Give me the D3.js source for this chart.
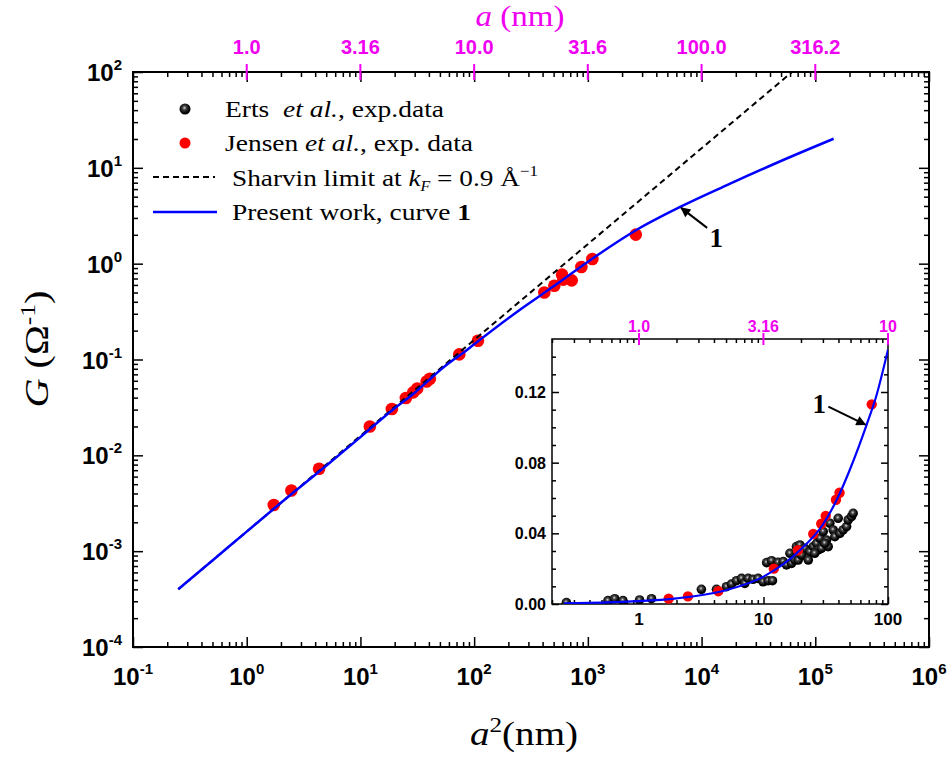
<!DOCTYPE html>
<html>
<head>
<meta charset="utf-8">
<script src="https://cdn.jsdelivr.net/npm/d3@7"></script>
<style>
  body { margin: 0; background: #fff; }
  text { font-family: "Liberation Sans", Arial, sans-serif; }
  .serif { font-family: "Liberation Serif", "Times New Roman", serif; }
</style>
</head>
<body>
<svg id="chart" width="951" height="758"></svg>
<script>
// a^2 (nm^2) against conductance G (1/Ohm)

// Jensen et al., exp. data
const jensenA2 = [1.73, 2.47, 4.33, 12.1, 18.9, 25.1, 29.1, 31.6, 38.2, 40.8, 74, 108,
  414, 507, 593, 608, 721, 877, 1096, 2640];
const jensenG = [0.00303, 0.0043, 0.00725, 0.0200, 0.0304, 0.0396, 0.0454, 0.0499, 0.0590, 0.0630, 0.113, 0.157,
  0.50, 0.589, 0.768, 0.681, 0.67, 0.924, 1.12, 2.01];

// Erts et al., exp. data (only shown in the inset)
const ertsA2 = [0.261, 0.563, 0.638, 0.743, 1.01, 1.26, 3.17, 4.19, 5.04, 5.53, 6.07, 6.66, 7.08, 7.53,
  8.25, 9.05, 9.93, 10.9, 11.8, 10.6, 11.6, 13.1, 14.4, 15.3, 16.8, 17.9, 16.3, 18.4, 19.6, 21.5,
  22.2, 23.6, 25.1, 26.7, 28.4, 30.2, 32.1, 33.1, 27.5, 29.2, 31.1, 34.1, 36.3, 37.4, 39.8, 41.1,
  43.6, 46.5, 47.9, 50.9, 52.5, 19.0, 20.2, 22.9, 25.8];
const ertsG = [0.0008, 0.0019, 0.0030, 0.0019, 0.0023, 0.0030, 0.0083, 0.0083, 0.0098, 0.0113, 0.0132, 0.0145, 0.0117, 0.0145,
  0.0140, 0.0145, 0.0126, 0.0132, 0.0132, 0.0234, 0.0245, 0.0236, 0.0240, 0.0221, 0.0230, 0.0249, 0.0287, 0.0325, 0.0334, 0.0315,
  0.0268, 0.0296, 0.0325, 0.0343, 0.0372, 0.0410, 0.0362, 0.0325, 0.0306, 0.0315, 0.0343, 0.0457, 0.0419, 0.0381, 0.0485, 0.0400,
  0.0419, 0.0438, 0.0476, 0.0494, 0.0513, 0.0249, 0.0277, 0.0249, 0.0287];

// present work, curve 1
const curveA2 = [0.25, 0.5, 1, 2, 5, 10, 20, 30, 40, 50, 67, 80, 100, 253, 500, 1117, 2694, 6480, 16700, 46000, 145000];
const curveG = [0.0004, 0.0008, 0.0016, 0.0032, 0.0078, 0.0155, 0.031, 0.045, 0.061, 0.077, 0.101, 0.117, 0.144,
  0.331, 0.58, 1.147, 2.26, 3.91, 6.6, 11.3, 20.1];

// Sharvin limit (straight line on log-log)
const sharvinA2 = [0.25, 1e5];
const sharvinG = [0.0004, 160];

// ticks
const xTickExp = [-1, 0, 1, 2, 3, 4, 5, 6];
const yTickExp = [-4, -3, -2, -1, 0, 1, 2];
const topTickA = [1, 3.16, 10, 31.6, 100, 316.2];
const topTickLabels = ["1.0", "3.16", "10.0", "31.6", "100.0", "316.2"];
const insetXTicks = [1, 10, 100];
const insetYTicks = [0, 0.04, 0.08, 0.12];
const insetTopA = [1, 3.16, 10];
const insetTopLabels = ["1.0", "3.16", "10"];

// annotation anchors on curve 1
const arrowMain = [6480, 3.91];
const arrowInset = [67, 0.101];

const MAGENTA = "#f000f0";
const svg = d3.select("#chart");

const defs = svg.append("defs");
const grad = defs.append("radialGradient").attr("id", "ball")
  .attr("cx", "45%").attr("cy", "40%").attr("r", "60%");
grad.append("stop").attr("offset", "0%").attr("stop-color", "#d8d8d8");
grad.append("stop").attr("offset", "30%").attr("stop-color", "#444");
grad.append("stop").attr("offset", "75%").attr("stop-color", "#000");
defs.append("marker").attr("id", "head").attr("viewBox", "0 0 10 10")
  .attr("refX", 9).attr("refY", 5).attr("markerWidth", 6).attr("markerHeight", 5)
  .attr("markerUnits", "strokeWidth").attr("orient", "auto")
  .append("path").attr("d", "M0,0 L10,5 L0,10 z").attr("fill", "#000");

const isPow = v => Math.abs(Math.log10(v) - Math.round(Math.log10(v))) < 1e-6;

function tickGroup(axisFn, scale, values, size, transform, color) {
  svg.append("g").attr("transform", transform)
    .call(axisFn(scale).tickValues(values).tickSize(size).tickFormat(""))
    .call(g => {
      g.select(".domain").remove();
      g.selectAll("line").attr("stroke", color || "#000").attr("stroke-width", 1.5);
    });
}

function powLabel(sel, e, supSize, supDy) {
  sel.append("tspan").text("10");
  sel.append("tspan").attr("font-size", supSize).attr("dy", supDy).text(e);
}

// ---------------- main plot ----------------
const M = { left: 133, right: 929, top: 72, bottom: 647 };
const x = d3.scaleLog().domain([0.1, 1e6]).range([M.left, M.right]);
const y = d3.scaleLog().domain([1e-4, 1e2]).range([M.bottom, M.top]);

defs.append("clipPath").attr("id", "clipMain").append("rect")
  .attr("x", M.left).attr("y", M.top)
  .attr("width", M.right - M.left).attr("height", M.bottom - M.top);

const xMinor = x.ticks().filter(v => !isPow(v));
const xMajor = xTickExp.map(e => Math.pow(10, e));
const yMinor = y.ticks().filter(v => !isPow(v));
const yMajor = yTickExp.map(e => Math.pow(10, e));

tickGroup(d3.axisBottom, x, xMinor, -5, `translate(0,${M.bottom})`);
tickGroup(d3.axisBottom, x, xMajor, -10, `translate(0,${M.bottom})`);
tickGroup(d3.axisTop, x, xMinor, -5, `translate(0,${M.top})`);
tickGroup(d3.axisTop, x, xMajor, -10, `translate(0,${M.top})`);
tickGroup(d3.axisLeft, y, yMinor, -5, `translate(${M.left},0)`);
tickGroup(d3.axisLeft, y, yMajor, -10, `translate(${M.left},0)`);
tickGroup(d3.axisRight, y, yMinor, -5, `translate(${M.right},0)`);
tickGroup(d3.axisRight, y, yMajor, -10, `translate(${M.right},0)`);

svg.append("rect").attr("x", M.left).attr("y", M.top)
  .attr("width", M.right - M.left).attr("height", M.bottom - M.top)
  .attr("fill", "none").attr("stroke", "#000").attr("stroke-width", 2);

// magenta a-ticks on top axis
svg.append("g").selectAll("line").data(topTickA).join("line")
  .attr("x1", d => x(d * d)).attr("x2", d => x(d * d))
  .attr("y1", M.top - 8).attr("y2", M.top + 8)
  .attr("stroke", MAGENTA).attr("stroke-width", 2);
svg.append("g").selectAll("text").data(topTickA).join("text")
  .attr("x", d => x(d * d)).attr("y", M.top - 18)
  .attr("text-anchor", "middle").attr("font-size", 20).attr("font-weight", "bold")
  .attr("fill", MAGENTA).text((d, i) => topTickLabels[i]);

// bottom labels
svg.append("g").selectAll("text").data(xTickExp).join("text")
  .attr("x", e => x(Math.pow(10, e))).attr("y", M.bottom + 38)
  .attr("text-anchor", "middle").attr("font-size", 24).attr("font-weight", "bold")
  .each(function(e) { powLabel(d3.select(this), e, 15, -11); });

// left labels
svg.append("g").selectAll("text").data(yTickExp).join("text")
  .attr("x", M.left - 11).attr("y", e => y(Math.pow(10, e)) + 9)
  .attr("text-anchor", "end").attr("font-size", 24).attr("font-weight", "bold")
  .each(function(e) { powLabel(d3.select(this), e, 15, -11); });

// axis titles
const topTitle = svg.append("text").attr("class", "serif")
  .attr("x", 520).attr("y", 26).attr("text-anchor", "middle")
  .attr("font-size", 30).attr("fill", MAGENTA)
  .attr("textLength", 89).attr("lengthAdjust", "spacingAndGlyphs");
topTitle.append("tspan").attr("font-style", "italic").text("a");
topTitle.append("tspan").text(" (nm)");

const botTitle = svg.append("text").attr("class", "serif")
  .attr("x", 524).attr("y", 745).attr("text-anchor", "middle").attr("font-size", 34)
  .attr("textLength", 108).attr("lengthAdjust", "spacingAndGlyphs");
botTitle.append("tspan").attr("font-style", "italic").text("a");
botTitle.append("tspan").attr("font-size", 22).attr("dy", -13).text("2");
botTitle.append("tspan").attr("dy", 13).text("(nm)");

const yTitle = svg.append("text").attr("class", "serif")
  .attr("transform", "translate(48,349) rotate(-90)")
  .attr("text-anchor", "middle").attr("font-size", 33)
  .attr("textLength", 117).attr("lengthAdjust", "spacingAndGlyphs");
yTitle.append("tspan").attr("font-style", "italic").text("G");
yTitle.append("tspan").text("  (Ω");
yTitle.append("tspan").attr("font-size", 21).attr("dy", -13).text("-1");
yTitle.append("tspan").attr("dy", 13).text(")");

// data
const jensen = jensenA2.map((a, i) => [a, jensenG[i]]);
const erts = ertsA2.map((a, i) => [a, ertsG[i]]);
const curve = curveA2.map((a, i) => [a, curveG[i]]);
const sharvin = sharvinA2.map((a, i) => [a, sharvinG[i]]);

const plotMain = svg.append("g").attr("clip-path", "url(#clipMain)");
plotMain.selectAll("circle").data(jensen).join("circle")
  .attr("cx", d => x(d[0])).attr("cy", d => y(d[1])).attr("r", 6.3).attr("fill", "#ff0000");
plotMain.append("path").datum(sharvin)
  .attr("d", d3.line().x(d => x(d[0])).y(d => y(d[1])))
  .attr("fill", "none").attr("stroke", "#000").attr("stroke-width", 2).attr("stroke-dasharray", "6,4");
plotMain.append("path").datum(curve)
  .attr("d", d3.line().x(d => x(d[0])).y(d => y(d[1])).curve(d3.curveMonotoneX))
  .attr("fill", "none").attr("stroke", "#0000ff").attr("stroke-width", 2.5);

// arrow 1 (main)
const amx = x(arrowMain[0]), amy = y(arrowMain[1]);
svg.append("line").attr("x1", amx + 27).attr("y1", amy + 21).attr("x2", amx + 1).attr("y2", amy + 1)
  .attr("stroke", "#000").attr("stroke-width", 2).attr("marker-end", "url(#head)");
svg.append("text").attr("class", "serif").attr("x", amx + 36).attr("y", amy + 40)
  .attr("text-anchor", "middle").attr("font-size", 27).attr("font-weight", "bold").text("1");

// legend
const leg = svg.append("g");
leg.append("circle").attr("cx", 185).attr("cy", 109).attr("r", 5.5).attr("fill", "url(#ball)");
leg.append("circle").attr("cx", 185).attr("cy", 143).attr("r", 5.5).attr("fill", "#ff0000");
leg.append("line").attr("x1", 153).attr("x2", 215).attr("y1", 177).attr("y2", 177)
  .attr("stroke", "#000").attr("stroke-width", 2).attr("stroke-dasharray", "6,4");
leg.append("line").attr("x1", 153).attr("x2", 217).attr("y1", 212).attr("y2", 212)
  .attr("stroke", "#0000ff").attr("stroke-width", 2.5);

function legText(xp, yp, len) {
  return leg.append("text").attr("class", "serif").attr("x", xp).attr("y", yp).attr("font-size", 24)
    .attr("textLength", len).attr("lengthAdjust", "spacingAndGlyphs");
}
const t1 = legText(225, 117, 219);
t1.append("tspan").text("Erts\u00a0\u00a0");
t1.append("tspan").attr("font-style", "italic").text("et al.");
t1.append("tspan").text(", exp.data");
const t2 = legText(225, 151, 248);
t2.append("tspan").text("Jensen ");
t2.append("tspan").attr("font-style", "italic").text("et al.");
t2.append("tspan").text(", exp. data");
const t3 = legText(232, 186, 306);
t3.append("tspan").text("Sharvin limit at ");
t3.append("tspan").attr("font-style", "italic").text("k");
t3.append("tspan").attr("font-style", "italic").attr("font-size", 14).attr("dy", 5).text("F");
t3.append("tspan").attr("dy", -5).text(" = 0.9 Å");
t3.append("tspan").attr("font-size", 15).attr("dy", -10).text("\u22121");
const t4 = legText(232, 220, 239);
t4.append("tspan").text("Present work, curve ");
t4.append("tspan").attr("font-weight", "bold").text("1");

// ---------------- inset ----------------
const I = { left: 552, right: 888, top: 339, bottom: 604 };
const xi = d3.scaleLog().domain([0.2, 100]).range([I.left, I.right]);
const yi = d3.scaleLinear().domain([0, 0.15]).range([I.bottom, I.top]);

svg.append("rect").attr("x", I.left).attr("y", I.top)
  .attr("width", I.right - I.left).attr("height", I.bottom - I.top).attr("fill", "#fff");

defs.append("clipPath").attr("id", "clipInset").append("rect")
  .attr("x", I.left).attr("y", I.top - 2)
  .attr("width", I.right - I.left).attr("height", I.bottom - I.top + 2);

const xiMinor = xi.ticks().filter(v => !isPow(v));
const yiMinor = d3.range(0.01, 0.15, 0.01).filter(v => Math.abs(v / 0.04 - Math.round(v / 0.04)) > 1e-6);

tickGroup(d3.axisBottom, xi, xiMinor, -4, `translate(0,${I.bottom})`);
tickGroup(d3.axisBottom, xi, insetXTicks, -7, `translate(0,${I.bottom})`);
tickGroup(d3.axisTop, xi, xiMinor, -4, `translate(0,${I.top})`);
tickGroup(d3.axisLeft, yi, yiMinor, -4, `translate(${I.left},0)`);
tickGroup(d3.axisLeft, yi, insetYTicks, -7, `translate(${I.left},0)`);
tickGroup(d3.axisRight, yi, yiMinor, -4, `translate(${I.right},0)`);
tickGroup(d3.axisRight, yi, insetYTicks, -7, `translate(${I.right},0)`);

svg.append("rect").attr("x", I.left).attr("y", I.top)
  .attr("width", I.right - I.left).attr("height", I.bottom - I.top)
  .attr("fill", "none").attr("stroke", "#000").attr("stroke-width", 1.5);

svg.append("g").selectAll("line").data(insetTopA).join("line")
  .attr("x1", d => xi(d * d)).attr("x2", d => xi(d * d))
  .attr("y1", I.top - 6).attr("y2", I.top + 6)
  .attr("stroke", MAGENTA).attr("stroke-width", 2);
svg.append("g").selectAll("text").data(insetTopA).join("text")
  .attr("x", d => xi(d * d)).attr("y", I.top - 7)
  .attr("text-anchor", "middle").attr("font-size", 16).attr("font-weight", "bold")
  .attr("fill", MAGENTA).text((d, i) => insetTopLabels[i]);

svg.append("g").selectAll("text").data(insetXTicks).join("text")
  .attr("x", d => xi(d)).attr("y", I.bottom + 21)
  .attr("text-anchor", "middle").attr("font-size", 17).attr("font-weight", "bold")
  .text(d => d);
svg.append("g").selectAll("text").data(insetYTicks).join("text")
  .attr("x", I.left - 6).attr("y", d => yi(d) + 6)
  .attr("text-anchor", "end").attr("font-size", 16).attr("font-weight", "bold")
  .text(d => d.toFixed(2));

const plotInset = svg.append("g").attr("clip-path", "url(#clipInset)");
plotInset.selectAll("circle.erts").data(erts).join("circle").attr("class", "erts")
  .attr("cx", d => xi(d[0])).attr("cy", d => yi(d[1])).attr("r", 4.8)
  .attr("fill", "url(#ball)");
plotInset.selectAll("circle.jensen").data(jensen.filter(d => d[0] <= 100)).join("circle").attr("class", "jensen")
  .attr("cx", d => xi(d[0])).attr("cy", d => yi(d[1])).attr("r", 5.2).attr("fill", "#ff0000");
plotInset.append("path").datum(curve.filter(d => d[0] <= 100))
  .attr("d", d3.line().x(d => xi(d[0])).y(d => yi(d[1])).curve(d3.curveMonotoneX))
  .attr("fill", "none").attr("stroke", "#0000ff").attr("stroke-width", 2.2);

// arrow 1 (inset)
const aix = xi(arrowInset[0]), aiy = yi(arrowInset[1]);
svg.append("line").attr("x1", aix - 38).attr("y1", aiy - 19).attr("x2", aix - 1).attr("y2", aiy - 1)
  .attr("stroke", "#000").attr("stroke-width", 2).attr("marker-end", "url(#head)");
svg.append("text").attr("class", "serif").attr("x", aix - 47).attr("y", aiy - 13)
  .attr("text-anchor", "middle").attr("font-size", 27).attr("font-weight", "bold").text("1");
</script>
</body>
</html>
